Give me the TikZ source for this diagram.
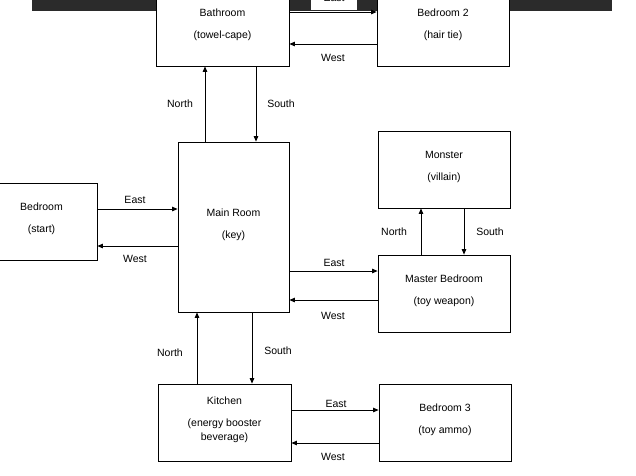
\documentclass[tikz,border=0pt]{standalone}
\usepackage{fontspec}
\setmainfont{Liberation Sans}
\usetikzlibrary{arrows.meta}
\begin{document}
\begin{tikzpicture}[x=1pt,y=-1pt,
  font=\fontsize{10.5}{14}\selectfont,
  room/.style={draw=black, line width=0.8pt, fill=white, minimum width=#1, minimum height=77, inner sep=0pt},
  room/.default=132,
  roomtext/.style={align=center, inner sep=0pt},
  arr/.style={line width=0.8pt, -{Triangle[length=5.5pt,width=4.5pt]}},
  lbl/.style={inner sep=0pt}]
\useasboundingbox (0,0) rectangle (636,475);
\clip (0,0) rectangle (636,475);
\fill[fill={rgb,255:red,43;green,43;blue,43}] (32,0) rectangle (612,11);
% rooms
\node[room=133] (bath) at (222.5,27.5) {};
\node[room=132] (bed2) at (443,27.5) {};
\node[room=111, minimum height=170] (main) at (233.5,227) {};
\node[room=111] (bedroom) at (41.5,221.5) {};
\node[room=132] (monster) at (444,169.5) {};
\node[room=132] (master) at (444,293.5) {};
\node[room=133] (kitchen) at (224.5,422.5) {};
\node[room=132] (bed3) at (445,422.5) {};
% room texts
\node[roomtext] (bath-t) at ([yshift=2.5]bath.center) {Bathroom\\[8pt](towel-cape)};
\node[roomtext] (bed2-t) at ([yshift=2.5]bed2.center) {Bedroom 2\\[8pt](hair tie)};
\node[roomtext] (main-t) at ([yshift=2.5]main.center) {Main Room\\[8pt](key)};
\node[roomtext] (bedroom-t) at ([yshift=2.5]bedroom.center) {Bedroom\\[8pt](start)};
\node[roomtext] (monster-t) at ([yshift=2.5]monster.center) {Monster\\[8pt](villain)};
\node[roomtext] (master-t) at ([yshift=2.5]master.center) {Master Bedroom\\[8pt](toy weapon)};
\node[roomtext] (kitchen-t) at ([yshift=2.5]kitchen.center) {Kitchen\\[8pt](energy booster\\beverage)};
\node[roomtext] (bed3-t) at ([yshift=2.5]bed3.center) {Bedroom 3\\[8pt](toy ammo)};
% connectors
\draw[arr] (bath.east |- 0,12) -- (bed2.west |- 0,12);
\draw[arr] (bed2.west |- 0,44) -- (bath.east |- 0,44);
\draw[arr] (main.north -| 205,0) -- (bath.south -| 205,0);
\draw[arr] (bath.south -| 256,0) -- (main.north -| 256,0);
\draw[arr] (bedroom.east |- 0,209) -- (main.west |- 0,209);
\draw[arr] (main.west |- 0,246) -- (bedroom.east |- 0,246);
\draw[arr] (main.east |- 0,271) -- (master.west |- 0,271);
\draw[arr] (master.west |- 0,300) -- (main.east |- 0,300);
\draw[arr] (master.north -| 421,0) -- (monster.south -| 421,0);
\draw[arr] (monster.south -| 464,0) -- (master.north -| 464,0);
\draw[arr] (kitchen.north -| 197,0) -- (main.south -| 197,0);
\draw[arr] (main.south -| 252,0) -- (kitchen.north -| 252,0);
\draw[arr] (kitchen.east |- 0,410) -- (bed3.west |- 0,410);
\draw[arr] (bed3.west |- 0,443) -- (kitchen.east |- 0,443);
% labels
\node[fill=white, minimum width=46, minimum height=24, inner sep=0pt] (l-e1) at (334,-2) {East};
\node[lbl] (l-w1) at (333,58) {West};
\node[lbl] (l-n1) at (180,104) {North};
\node[lbl] (l-s1) at (281,104) {South};
\node[lbl] (l-e2) at (135,200) {East};
\node[lbl] (l-w2) at (135,259) {West};
\node[lbl] (l-e3) at (334,263) {East};
\node[lbl] (l-w3) at (333,316) {West};
\node[lbl] (l-n2) at (394,232) {North};
\node[lbl] (l-s2) at (490,232) {South};
\node[lbl] (l-n3) at (170,353) {North};
\node[lbl] (l-s3) at (278,351) {South};
\node[lbl] (l-e4) at (336,404) {East};
\node[lbl] (l-w4) at (333,457) {West};
\end{tikzpicture}
\end{document}
